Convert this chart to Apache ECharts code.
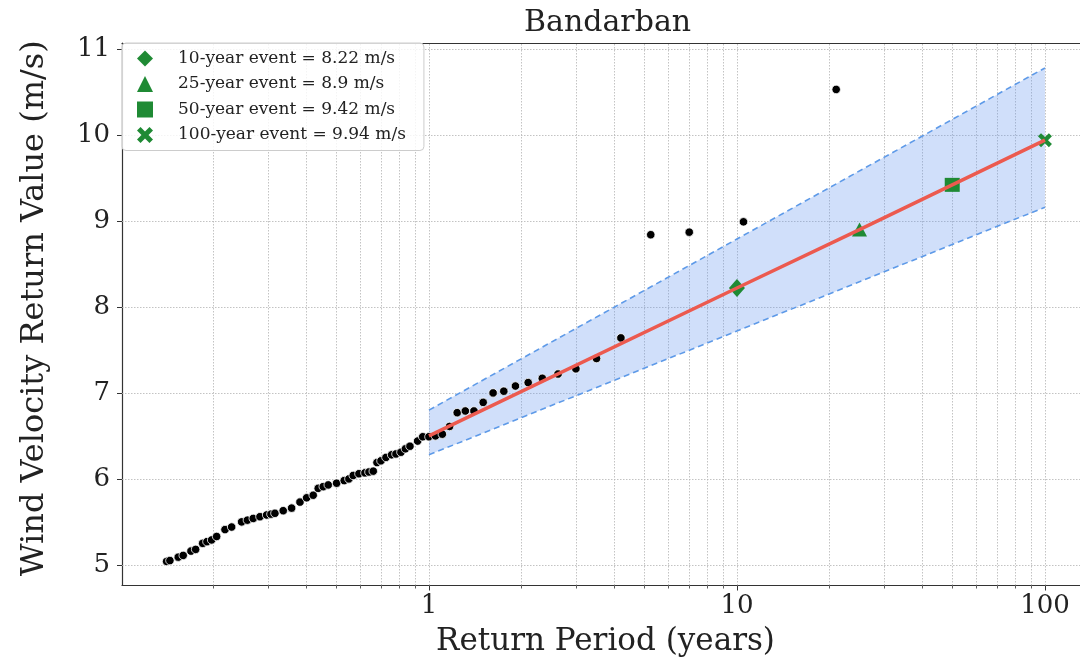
<!DOCTYPE html>
<html>
<head>
<meta charset="utf-8">
<script src="https://cdn.jsdelivr.net/npm/echarts@6/dist/echarts.min.js"></script>
<style>
html,body{margin:0;padding:0;background:#fff;}
#chart{width:1080px;height:662px;}
</style>
</head>
<body>
<div id="chart"></div>
<script>
// Empirical return periods (years), ascending, and observed wind velocities (m/s)
const returnPeriods = [0.1407, 0.1442, 0.1535, 0.1593, 0.1688, 0.1748, 0.1842, 0.1902, 0.1970, 0.2045,
  0.2177, 0.2288, 0.2465, 0.2574, 0.2689, 0.2827, 0.2972, 0.3069, 0.3162, 0.3364,
  0.3582, 0.3813, 0.4008, 0.4210, 0.4370, 0.4537, 0.4710, 0.5015, 0.5308, 0.5497,
  0.5677, 0.5925, 0.6197, 0.6386, 0.6595, 0.6781, 0.6986, 0.7252, 0.7565, 0.7815,
  0.8111, 0.8389, 0.8676, 0.9190, 0.9545, 1, 1.05, 1.1053, 1.1667, 1.2353,
  1.3125, 1.4, 1.5, 1.6154, 1.75, 1.9091, 2.1, 2.3333, 2.625, 3,
  3.5, 4.2, 5.25, 7, 10.5, 21];
const windSpeeds = [5.04, 5.05, 5.09, 5.11, 5.16, 5.18, 5.25, 5.27, 5.29, 5.33,
  5.41, 5.44, 5.50, 5.52, 5.54, 5.56, 5.58, 5.59, 5.60, 5.63,
  5.66, 5.73, 5.78, 5.81, 5.89, 5.91, 5.93, 5.95, 5.98, 6.00,
  6.04, 6.06, 6.07, 6.08, 6.09, 6.19, 6.21, 6.25, 6.28, 6.29,
  6.31, 6.35, 6.38, 6.44, 6.49, 6.49, 6.50, 6.52, 6.61, 6.77,
  6.79, 6.79, 6.89, 7.00, 7.02, 7.08, 7.12, 7.17, 7.22, 7.28,
  7.40, 7.64, 8.84, 8.87, 8.99, 10.53];

// Fitted return-level line
const fitPeriods = [1, 10, 25, 50, 100];
const fitValues = [6.50, 8.22, 8.90, 9.42, 9.94];

// Confidence band
const bandPeriods = [1, 10, 100];
const bandLower = [6.28, 7.72, 9.16];
const bandUpper = [6.80, 8.79, 10.78];

// Highlighted return events
const eventPeriods = [10, 25, 50, 100];
const eventValues = [8.22, 8.9, 9.42, 9.94];
const eventLabels = ['10-year event = 8.22 m/s', '25-year event = 8.9 m/s',
  '50-year event = 9.42 m/s', '100-year event = 9.94 m/s'];

// Axis ticks
const xMajorTicks = [1, 10, 100];
const xMajorLabels = ['1', '10', '100'];
const xMinorTicks = [0.2, 0.3, 0.4, 0.5, 0.6, 0.7, 0.8, 0.9,
  2, 3, 4, 5, 6, 7, 8, 9, 20, 30, 40, 50, 60, 70, 80, 90];
const yTicks = [5, 6, 7, 8, 9, 10, 11];

const FONT = 'DejaVu Serif';
const XMIN = 0.1008, XMAX = 139, YMIN = 4.76, YMAX = 11.07;
const GREEN = '#1f8a34';
const XPATH = 'path://M0,2.2 L2.2,0 L5,2.8 L7.8,0 L10,2.2 L7.2,5 L10,7.8 L7.8,10 L5,7.2 L2.2,10 L0,7.8 L2.8,5 Z';
const eventSymbols = ['diamond', 'triangle', 'rect', XPATH];
const eventSizes = [[16, 18], [15, 14], [15, 14], [14, 14]];

const gridStyle = { color: '#b4b4b4', width: 0.8, type: [1.5, 1.5] };
const gridLines = xMajorTicks.concat(xMinorTicks).map(v => ({ xAxis: v }))
  .concat(yTicks.map(v => ({ yAxis: v })));

const chart = echarts.init(document.getElementById('chart'), null, { renderer: 'canvas' });

const series = [
  {
    type: 'scatter', name: 'grid', data: [[1, 6]], symbolSize: 0, z: 1, silent: true,
    markLine: {
      silent: true, symbol: ['none', 'none'], label: { show: false },
      lineStyle: gridStyle, animation: false, z: 1,
      emphasis: { disabled: true },
      data: gridLines
    }
  },
  {
    type: 'custom', name: 'band', coordinateSystem: 'cartesian2d', z: 2, silent: true,
    data: bandPeriods.map((p, i) => [p, bandLower[i], bandUpper[i]]),
    encode: { x: 0, y: [1, 2] },
    renderItem: function (params, api) {
      if (params.dataIndex !== 0) return null;
      const pts = [];
      for (let i = 0; i < bandPeriods.length; i++) pts.push(api.coord([bandPeriods[i], bandUpper[i]]));
      for (let i = bandPeriods.length - 1; i >= 0; i--) pts.push(api.coord([bandPeriods[i], bandLower[i]]));
      return { type: 'polygon', shape: { points: pts }, style: { fill: 'rgba(100,150,237,0.30)' } };
    }
  },
  {
    type: 'line', name: 'upperDash', z: 3, symbol: 'none', silent: true,
    lineStyle: { color: '#5e9ae8', width: 1.6, type: [6, 4] },
    data: bandPeriods.map((p, i) => [p, bandUpper[i]])
  },
  {
    type: 'line', name: 'lowerDash', z: 3, symbol: 'none', silent: true,
    lineStyle: { color: '#5e9ae8', width: 1.6, type: [6, 4] },
    data: bandPeriods.map((p, i) => [p, bandLower[i]])
  },
  {
    type: 'scatter', name: 'observed', z: 4, symbol: 'circle', symbolSize: 8.5,
    itemStyle: { color: '#000', borderColor: '#fff', borderWidth: 0.8, opacity: 1 },
    data: returnPeriods.map((p, i) => [p, windSpeeds[i]])
  }
];
eventPeriods.forEach((p, i) => {
  series.push({
    type: 'scatter', name: eventLabels[i], z: 5,
    symbol: eventSymbols[i], symbolSize: eventSizes[i],
    itemStyle: { color: GREEN, opacity: 1 },
    data: [[p, eventValues[i]]]
  });
});
series.push({
  type: 'line', name: 'fit', z: 6, symbol: 'none', silent: true,
  lineStyle: { color: '#ec5a4f', width: 3.5 },
  data: fitPeriods.map((p, i) => [p, fitValues[i]])
});

const option = {
  animation: false,
  backgroundColor: '#fff',
  title: {
    text: 'Bandarban', left: 519, top: 3,
    textStyle: { fontFamily: FONT, fontSize: 30, fontWeight: 'normal', color: '#222' }
  },
  legend: {
    orient: 'vertical', left: 122, top: 43,
    padding: [7, 18, 7, 15],
    itemWidth: 16, itemHeight: 16, itemGap: 8.5,
    backgroundColor: 'rgba(255,255,255,0.82)',
    borderColor: '#cccccc', borderWidth: 1, borderRadius: 4,
    textStyle: { fontFamily: FONT, fontSize: 17, color: '#222', padding: [0, 0, 0, 20] },
    data: eventLabels.map((n, i) => ({ name: n, icon: eventSymbols[i] })),
    selectedMode: false, z: 10
  },
  grid: { left: 122, right: -9, top: 43, bottom: 76.5, containLabel: false, outerBoundsMode: 'none' },
  xAxis: [
    {
      type: 'log', logBase: 10, min: XMIN, max: XMAX, position: 'bottom',
      name: 'Return Period (years)', nameLocation: 'middle', nameGap: 41,
      nameTextStyle: { fontFamily: FONT, fontSize: 31, color: '#222' },
      axisLine: { show: true, lineStyle: { color: '#333', width: 1.2 } },
      axisTick: { show: true, length: 5, lineStyle: { color: '#333', width: 1 }, customValues: xMajorTicks },
      axisLabel: {
        fontFamily: FONT, fontSize: 26, color: '#222', margin: 8,
        customValues: xMajorTicks,
        formatter: v => {
          const i = xMajorTicks.findIndex(t => Math.abs(t - v) / t < 1e-6);
          return i >= 0 ? xMajorLabels[i] : '';
        }
      },
      splitLine: { show: false }
    },
    {
      type: 'log', logBase: 10, min: XMIN, max: XMAX, position: 'bottom',
      axisLine: { show: false },
      axisTick: { show: true, length: 3, lineStyle: { color: '#333', width: 0.8 }, customValues: xMinorTicks },
      axisLabel: { show: false },
      splitLine: { show: false }
    },
    {
      type: 'log', logBase: 10, min: XMIN, max: XMAX, position: 'top',
      axisLine: { show: true, lineStyle: { color: '#333', width: 1.2 } },
      axisTick: { show: false }, axisLabel: { show: false }, splitLine: { show: false }
    }
  ],
  yAxis: {
    type: 'value', min: YMIN, max: YMAX,
    name: 'Wind Velocity Return Value (m/s)', nameLocation: 'middle', nameGap: 71,
    nameTextStyle: { fontFamily: FONT, fontSize: 32, color: '#222', padding: [0, 0, 0, 12] },
    axisLine: { show: true, lineStyle: { color: '#333', width: 1.2 } },
    axisTick: { show: true, length: 5, lineStyle: { color: '#333', width: 1 }, customValues: yTicks },
    axisLabel: { fontFamily: FONT, fontSize: 26, color: '#222', margin: 12, customValues: yTicks },
    splitLine: { show: false }
  },
  series: series
};
chart.setOption(option);
</script>
</body>
</html>
